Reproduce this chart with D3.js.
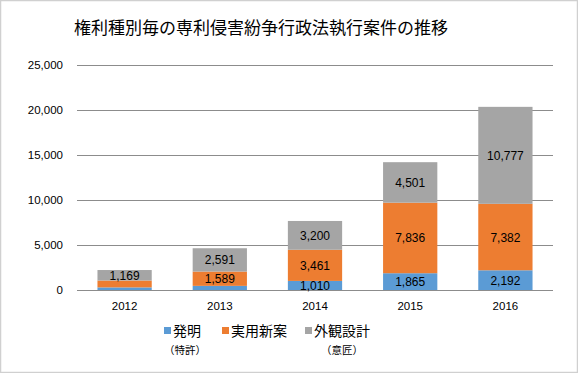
<!DOCTYPE html>
<html><head><meta charset="utf-8">
<script src="https://cdn.jsdelivr.net/npm/d3@7"></script>
<style>html,body{margin:0;padding:0;background:#fff;}</style>
</head><body>
<svg id="c" width="578" height="373"></svg>
<script>
const years = ["2012","2013","2014","2015","2016"];
const seriesNames = ["発明","実用新案","外観設計"];
const seriesSub = ["（特許）","","（意匠）"];
const invention = [290, 460, 1010, 1865, 2192];
const utility = [760, 1589, 3461, 7836, 7382];
const design = [1169, 2591, 3200, 4501, 10777];
const labelsShown = [[false,false,true,true,true],[false,true,true,true,true],[true,true,true,true,true]];
const yTicks = [0,5000,10000,15000,20000,25000];
const colors = ["#5B9BD5","#ED7D31","#A5A5A5"];

(function(){
const svg = d3.select("#c");
svg.append("rect").attr("x",0.5).attr("y",0.5).attr("width",577).attr("height",372)
  .attr("fill","#fff").attr("stroke","#D0D0D0").attr("stroke-width",1.5);

svg.append("text").attr("x",261).attr("y",34).attr("text-anchor","middle")
  .attr("font-family","'Noto Sans CJK JP'").attr("font-size",17).attr("fill","#000")
  .text("権利種別毎の専利侵害紛争行政法執行案件の推移");

const pL=77,pR=553,pT=65,pB=290;
const x = d3.scaleBand().domain(years).range([pL,pR]).paddingInner(0.43).paddingOuter(0.215);
const y = d3.scaleLinear().domain([0,25000]).range([pB,pT]);

const grid = svg.append("g");
yTicks.forEach(t=>{
  grid.append("line").attr("x1",pL).attr("x2",pR).attr("y1",Math.round(y(t))+0.5).attr("y2",Math.round(y(t))+0.5)
    .attr("stroke","#8C8C8C").attr("stroke-width",1);
});
const yAxis = d3.axisLeft(y).tickValues(yTicks).tickFormat(d3.format(",")).tickSize(0).tickPadding(14);
svg.append("g").attr("transform",`translate(${pL},0)`).call(yAxis)
  .call(g=>g.select(".domain").remove())
  .call(g=>g.selectAll("text").attr("font-family","'Liberation Sans'").attr("font-size",11.5).attr("fill","#000"));

const xAxis = d3.axisBottom(x).tickSize(0).tickPadding(12);
svg.append("g").attr("transform",`translate(0,${pB})`).call(xAxis)
  .call(g=>g.select(".domain").remove())
  .call(g=>g.selectAll("text").attr("font-family","'Liberation Sans'").attr("font-size",11.5).attr("fill","#000"));

const data = years.map((yr,i)=>({year:yr, s0:invention[i], s1:utility[i], s2:design[i]}));
const stack = d3.stack().keys(["s0","s1","s2"])(data);
stack.forEach((layer,k)=>{
  const g = svg.append("g");
  g.selectAll("rect").data(layer).join("rect")
    .attr("x",d=>x(d.data.year)).attr("width",x.bandwidth())
    .attr("y",d=>y(d[1])).attr("height",d=>y(d[0])-y(d[1]))
    .attr("fill",colors[k]);
  g.selectAll("text").data(layer.filter((d,i)=>labelsShown[k][i])).join("text")
    .attr("x",d=>x(d.data.year)+x.bandwidth()/2)
    .attr("y",d=>(y(d[0])+y(d[1]))/2+4.5)
    .attr("text-anchor","middle").attr("font-family","'Liberation Sans'").attr("font-size",12).attr("fill","#000")
    .text(d=>d3.format(",")(d[1]-d[0]));
});

const legX = [164, 222, 305];
seriesNames.forEach((n,k)=>{
  svg.append("rect").attr("x",legX[k]).attr("y",327).attr("width",7).attr("height",7).attr("fill",colors[k]);
  svg.append("text").attr("x",legX[k]+9).attr("y",336).attr("font-family","'Noto Sans CJK JP'").attr("font-size",14).attr("fill","#000").text(n);
});
svg.append("text").attr("x",185).attr("y",354).attr("text-anchor","middle").attr("font-family","'Noto Sans CJK JP'").attr("font-size",10.5).attr("fill","#000").text(seriesSub[0]);
svg.append("text").attr("x",342).attr("y",354).attr("text-anchor","middle").attr("font-family","'Noto Sans CJK JP'").attr("font-size",10.5).attr("fill","#000").text(seriesSub[2]);
})();
</script>
</body></html>
